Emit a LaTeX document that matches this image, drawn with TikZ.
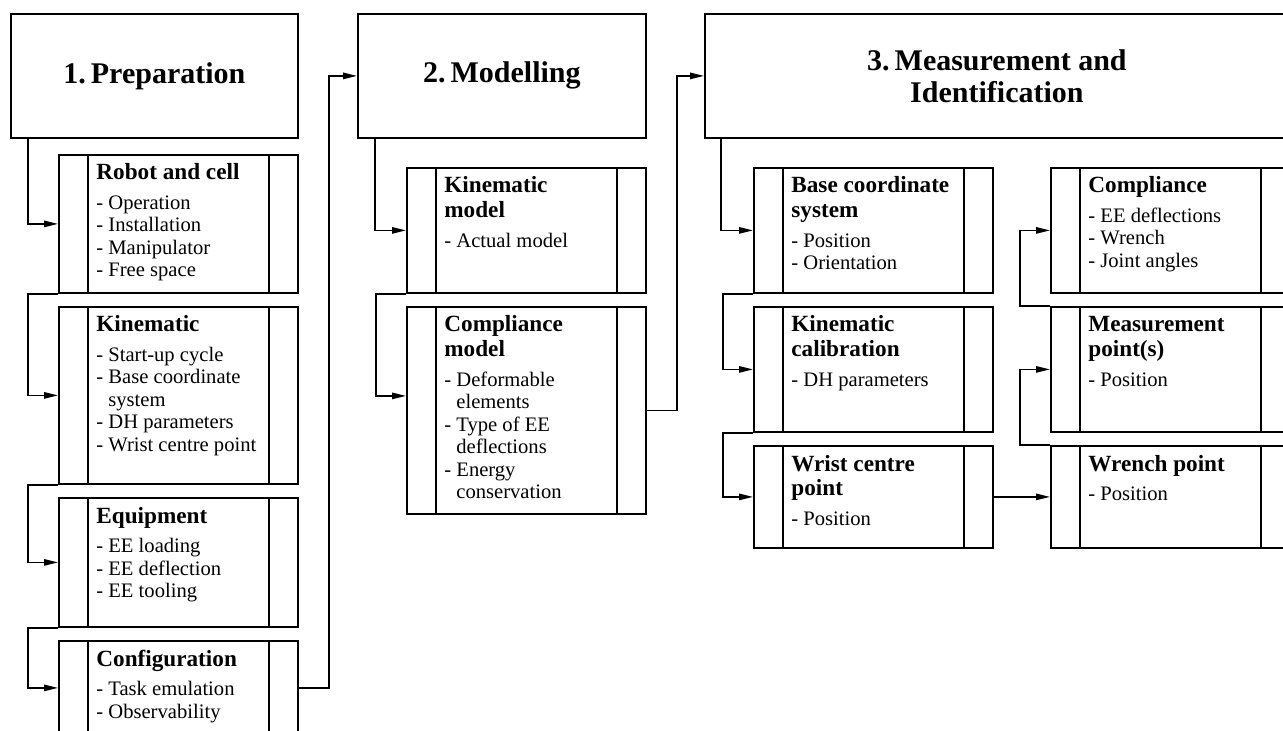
\documentclass[tikz,border=0pt]{standalone}
\usepackage{fontspec}
\setmainfont{Liberation Serif}
\usetikzlibrary{arrows.meta}
\tikzset{
  hdr/.style={draw, line width=0.9pt, inner sep=0pt, font=\fontsize{15}{16}\selectfont\bfseries, align=center, anchor=north west, minimum height=62pt},
  pbox/.style={draw, line width=0.9pt, inner sep=0pt, minimum width=119.5pt, anchor=north west},
  inl/.style={line width=0.9pt},
  arr/.style={line width=0.85pt, -{Triangle[length=7pt,width=3.2pt]}},
  txt/.style={anchor=base west, inner sep=0pt}
}
\newcommand{\boxtxt}[2]{\begin{minipage}[t]{95pt}\raggedright
{\fontsize{11.6}{12.5}\selectfont\bfseries #1\par}\vspace{3.5pt}%
{\fontsize{10.3}{11.25}\selectfont #2\par}\end{minipage}}
\newcommand{\pbx}[6]{%
  \node[pbox, minimum height=#4] (#1) at (#2,#3) {};
  \draw[inl] ([xshift=15pt]#1.north west) -- ([xshift=15pt]#1.south west);
  \draw[inl] ([xshift=-15pt]#1.north east) -- ([xshift=-15pt]#1.south east);
  \node[txt] (#1-t) at ([xshift=19pt,yshift=-13pt]#1.north west) {\boxtxt{#5}{#6}};}
\newcommand{\ind}{\phantom{- }}
\begin{document}
\begin{tikzpicture}[x=0.5pt,y=-0.5pt]
\useasboundingbox (0,0) rectangle (1283,731);
\clip (0,0) rectangle (1283,731);
% headers
\node[hdr, minimum width=143.5pt] (prep) at (10,13) {1.\,Preparation};
\node[hdr, minimum width=144pt] (model) at (357,13) {2.\,Modelling};
\node[hdr, minimum width=292pt] (meas) at (704,13) {3.\,Measurement and\\Identification};
% preparation column
\pbx{rc}{58}{154}{69pt}{Robot and cell}{- Operation\\- Installation\\- Manipulator\\- Free space}
\pbx{kin}{58}{306}{88.5pt}{Kinematic}{- Start-up cycle\\- Base coordinate\\\ind system\\- DH parameters\\- Wrist centre point}
\pbx{equip}{58}{497}{64.5pt}{Equipment}{- EE loading\\- EE deflection\\- EE tooling}
\pbx{conf}{58}{640}{47pt}{Configuration}{- Task emulation\\- Observability}
% modelling column
\pbx{km}{406}{167}{62.5pt}{Kinematic\\model}{- Actual model}
\pbx{cm}{406}{306}{103.5pt}{Compliance\\model}{- Deformable\\\ind elements\\- Type of EE\\\ind deflections\\- Energy\\\ind conservation}
% measurement columns
\pbx{base}{753}{167}{62.5pt}{Base coordinate\\system}{- Position\\- Orientation}
\pbx{kc}{753}{306}{62.5pt}{Kinematic\\calibration}{- DH parameters}
\pbx{wcp}{753}{445}{51pt}{Wrist centre\\point}{- Position}
\pbx{comp}{1050}{167}{62.5pt}{Compliance}{- EE deflections\\- Wrench\\- Joint angles}
\pbx{mp}{1050}{306}{62.5pt}{Measurement\\point(s)}{- Position}
\pbx{wp}{1050}{445}{51pt}{Wrench point}{- Position}
% connectors
\draw[arr] ([xshift=9pt]prep.south west) |- (rc.west);
\draw[arr] (rc.south west) -- ++(-15pt,0) |- (kin.west);
\draw[arr] (kin.south west) -- ++(-15pt,0) |- (equip.west);
\draw[arr] (equip.south west) -- ++(-15pt,0) |- (conf.west);
\draw[arr] (conf.east) -- ++(15pt,0) |- (model.west);
\draw[arr] ([xshift=9pt]model.south west) |- (km.west);
\draw[arr] (km.south west) -- ++(-15pt,0) |- ([yshift=7.25pt]cm.west);
\draw[arr] (cm.east) -- ++(15pt,0) |- (meas.west);
\draw[arr] ([xshift=8.5pt]meas.south west) |- (base.west);
\draw[arr] (base.south west) -- ++(-15pt,0) |- (kc.west);
\draw[arr] (kc.south west) -- ++(-15pt,0) |- (wcp.west);
\draw[arr] (wcp.east) -- (wp.west);
\draw[arr] (wp.north west) -- ++(-15pt,0) |- (mp.west);
\draw[arr] (mp.north west) -- ++(-15pt,0) |- (comp.west);
\end{tikzpicture}
\end{document}
